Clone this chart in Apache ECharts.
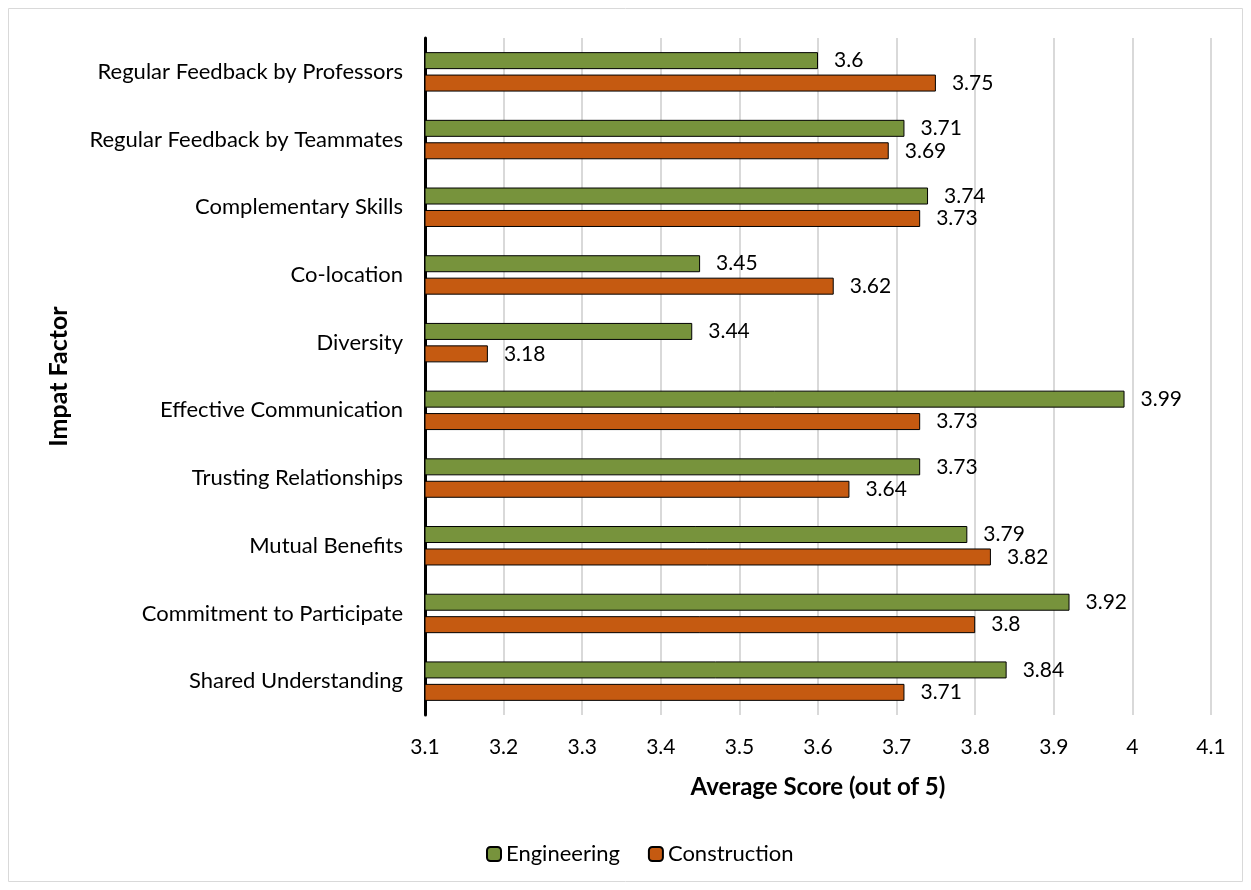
<!DOCTYPE html>
<html>
<head>
<meta charset="utf-8">
<script src="https://cdn.jsdelivr.net/npm/echarts@6/dist/echarts.min.js"></script>
<style>
  html, body { margin: 0; padding: 0; background: #fff; }
  #main { width: 1251px; height: 890px; }
</style>
</head>
<body>
<div id="main"></div>
<script>
// categories, top to bottom as in the chart
var categories = [
  "Regular Feedback by Professors",
  "Regular Feedback by Teammates",
  "Complementary Skills",
  "Co-location",
  "Diversity",
  "Effective Communication",
  "Trusting Relationships",
  "Mutual Benefits",
  "Commitment to Participate",
  "Shared Understanding"
];
var engineering = [3.6, 3.71, 3.74, 3.45, 3.44, 3.99, 3.73, 3.79, 3.92, 3.84];
var construction = [3.75, 3.69, 3.73, 3.62, 3.18, 3.73, 3.64, 3.82, 3.8, 3.71];
var xTicks = { min: 3.1, max: 4.1, interval: 0.1 };

var font = "Lato";
var chartDom = document.getElementById("main");
var myChart = echarts.init(chartDom);

var labelStyle = {
  show: true,
  position: "right",
  distance: 16,
  fontFamily: font,
  fontSize: 21,
  color: "#000"
};

var option = {
  animation: false,
  textStyle: { fontFamily: font },
  graphic: [
    {
      type: "rect",
      shape: { x: 8.5, y: 8.5, width: 1234, height: 873 },
      style: { fill: "none", stroke: "#d9d9d9", lineWidth: 1 }
    }
  ],
  legend: {
    data: ["Engineering", "Construction"],
    bottom: 20,
    left: 481,
    itemWidth: 14,
    itemHeight: 14,
    itemGap: 28,
    textStyle: { fontFamily: font, fontSize: 22, color: "#000" }
  },
  grid: {
    left: 425,
    right: 40,
    top: 38,
    bottom: 175
  },
  xAxis: {
    type: "value",
    min: xTicks.min,
    max: xTicks.max,
    interval: xTicks.interval,
    name: "Average Score (out of 5)",
    nameLocation: "middle",
    nameGap: 60,
    nameTextStyle: { fontFamily: font, fontSize: 24, fontWeight: "bold", color: "#000" },
    axisLine: { show: false },
    axisTick: { show: false },
    axisLabel: {
      margin: 22,
      fontFamily: font,
      fontSize: 21,
      color: "#000",
      formatter: function (v) { return String(Math.round(v * 10) / 10); }
    },
    splitLine: { show: true, lineStyle: { color: "#d9d9d9", width: 2 } }
  },
  yAxis: {
    type: "category",
    data: categories,
    inverse: true,
    name: "Impat Factor",
    nameLocation: "middle",
    nameGap: 354,
    nameRotate: 90,
    nameTextStyle: { fontFamily: font, fontSize: 25, fontWeight: "bold", color: "#000" },
    axisLine: { show: true, lineStyle: { color: "#000", width: 3 } },
    axisTick: { show: false },
    axisLabel: { margin: 22, fontFamily: font, fontSize: 22, color: "#000" }
  },
  series: [
    {
      name: "Engineering",
      type: "bar",
      data: engineering,
      barWidth: 17,
      barGap: "32%",
      itemStyle: { color: "#77933c", borderColor: "#000", borderWidth: 1 },
      label: labelStyle
    },
    {
      name: "Construction",
      type: "bar",
      data: construction,
      barWidth: 17,
      barGap: "32%",
      itemStyle: { color: "#c55a11", borderColor: "#000", borderWidth: 1 },
      label: labelStyle
    }
  ]
};

option && myChart.setOption(option);
window.addEventListener("resize", function () {
  myChart.resize();
});
</script>
</body>
</html>
